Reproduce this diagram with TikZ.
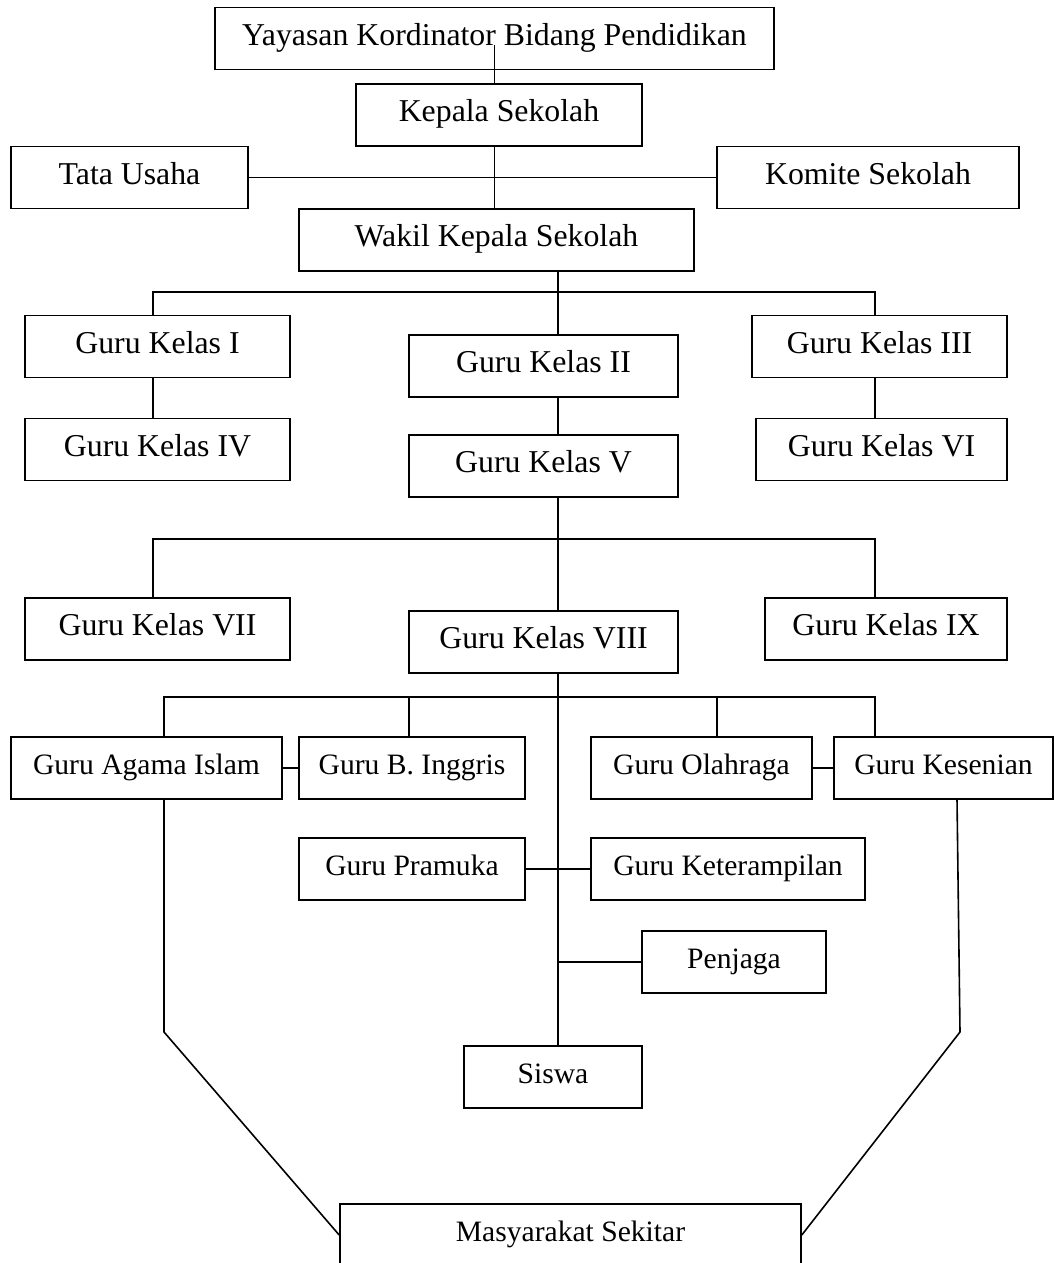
\documentclass[tikz,border=0pt]{standalone}
\usepackage{fontspec}
\setmainfont{Liberation Serif}

\begin{document}
\begin{tikzpicture}[x=0.5pt, y=-0.5pt, line width=0.8pt,
		box/.style={draw, rectangle, inner sep=0pt, minimum height=31pt, minimum width=#1*0.5pt,
			text height=0.68em, text depth=0pt, font=\fontsize{14.8}{17}\selectfont},
		upper/.style={font=\fontsize{15.9}{19}\selectfont}]
	\useasboundingbox (0,0) rectangle (1054,1263);

	\node[box=559, upper] (yayasan) at (494.5,38.5) {Yayasan Kordinator Bidang Pendidikan};
	\node[box=286, upper] (kepala) at (499,115) {Kepala Sekolah};
	\node[box=237, upper] (tata) at (129.5,177.5) {Tata Usaha};
	\node[box=302, upper] (komite) at (868,177.5) {Komite Sekolah};
	\node[box=395, upper] (wakil) at (496.5,240) {Wakil Kepala Sekolah};

	\node[box=265, upper] (k1) at (157.5,346.5) {Guru Kelas I};
	\node[box=269, upper] (k2) at (543.5,366) {Guru Kelas II};
	\node[box=255, upper] (k3) at (879.5,346.5) {Guru Kelas III};
	\node[box=265, upper] (k4) at (157.5,449.5) {Guru Kelas IV};
	\node[box=269, upper] (k5) at (543.5,466) {Guru Kelas V};
	\node[box=251, upper] (k6) at (881.5,449.5) {Guru Kelas VI};
	\node[box=265, upper] (k7) at (157.5,629) {Guru Kelas VII};
	\node[box=269, upper] (k8) at (543.5,642) {Guru Kelas VIII};
	\node[box=242, upper] (k9) at (886,629) {Guru Kelas IX};

	\node[box=271] (agama) at (146.5,768) {Guru Agama Islam};
	\node[box=226] (inggris) at (412,768) {Guru B. Inggris};
	\node[box=221] (olahraga) at (701.5,768) {Guru Olahraga};
	\node[box=219] (kesenian) at (943.5,768) {Guru Kesenian};
	\node[box=226] (pramuka) at (412,869) {Guru Pramuka};
	\node[box=274] (terampil) at (728,869) {Guru Keterampilan};
	\node[box=184] (penjaga) at (734,962) {Penjaga};
	\node[box=178] (siswa) at (553,1077) {Siswa};
	\node[box=461] (masy) at (570.5,1235) {Masyarakat Sekitar};

	\coordinate (b1l) at (153,292);
	\coordinate (b1m) at (558,292);
	\coordinate (b1r) at (875,292);
	\coordinate (b2l) at (153,539);
	\coordinate (b2m) at (558,539);
	\coordinate (b2r) at (875,539);
	\coordinate (b3l) at (164,697);
	\coordinate (b3a) at (409,697);
	\coordinate (b3m) at (558,697);
	\coordinate (b3b) at (717,697);
	\coordinate (b3r) at (875,697);
	\coordinate (pj) at (558,962);
	\coordinate (ks) at (957,799);
	\coordinate (lk) at (164,1032);
	\coordinate (rk) at (960,1032);

	\draw (yayasan.base) -- (yayasan.base |- kepala.north);
	\draw (kepala.south -| yayasan.base) -- (wakil.north -| yayasan.base);
	\path (tata) edge (komite);

	\draw (b1m |- wakil.south) -- (b1m);
	\draw (b1l |- k1.north) -- (b1l) -- (b1r) -- (b1r |- k3.north);
	\draw (b1m) -- (b1m |- k2.north);
	\draw (b1l |- k1.south) -- (b1l |- k4.north);
	\draw (b1m |- k2.south) -- (b1m |- k5.north);
	\draw (b1r |- k3.south) -- (b1r |- k6.north);

	\draw (b2m |- k5.south) -- (b2m |- k8.north);
	\draw (b2l |- k7.north) -- (b2l) -- (b2r) -- (b2r |- k9.north);

	\draw (b3m |- k8.south) -- (b3m |- siswa.north);
	\draw (b3l |- agama.north) -- (b3l) -- (b3r) -- (b3r |- kesenian.north);
	\draw (b3a) -- (b3a |- inggris.north);
	\draw (b3b) -- (b3b |- olahraga.north);
	\path (agama) edge (inggris)
		(olahraga) edge (kesenian)
		(pramuka) edge (terampil);
	\draw (pj) -- (penjaga.west);

	\draw (b3l |- agama.south) -- (lk) -- (masy.west);
	\draw (ks) -- (rk) -- (masy.east);
\end{tikzpicture}
\end{document}
